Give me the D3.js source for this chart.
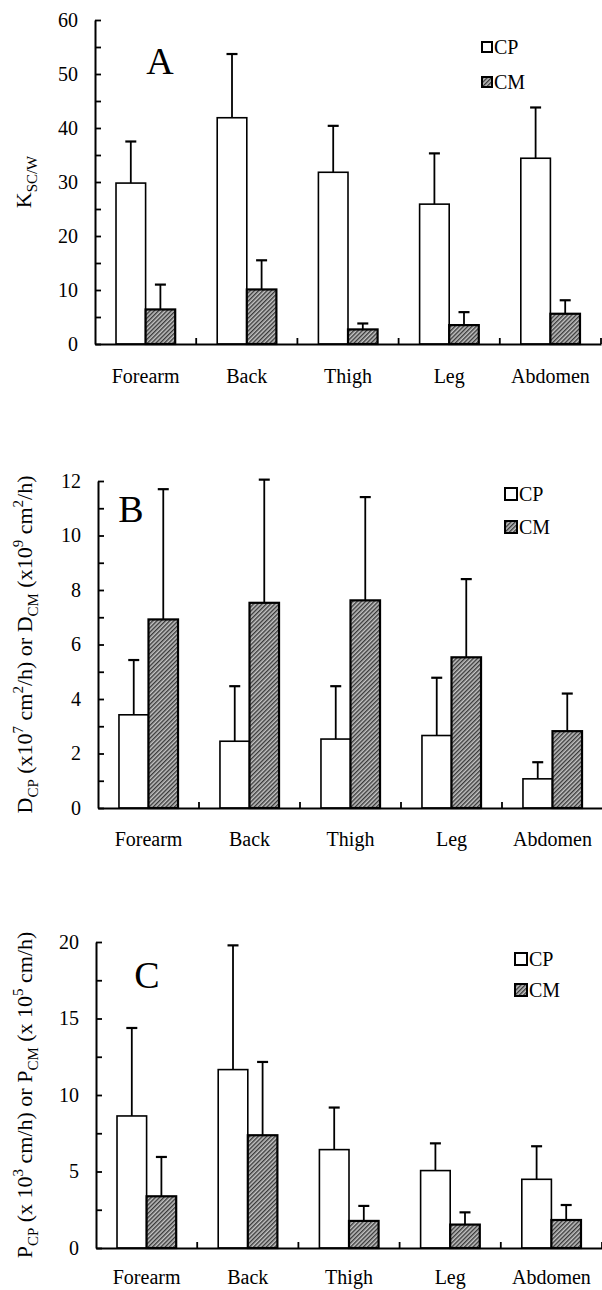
<!DOCTYPE html>
<html>
<head>
<meta charset="utf-8">
<script src="https://cdn.jsdelivr.net/npm/d3@7"></script>
<style>
  body { margin: 0; background: #fff; }
  svg { display: block; }
  text { font-family: 'Liberation Serif', 'Times New Roman', serif; fill: #000; }
</style>
</head>
<body>
<svg id="chart" width="602" height="1290"></svg>
<script>
// skin sites and the two series
const sites = ['Forearm', 'Back', 'Thigh', 'Leg', 'Abdomen'];
const series = ['CP', 'CM'];

// A: partition coefficient K sc/w (mean, sd)
const kscwCP = [29.8, 41.9, 31.8, 25.9, 34.4];
const kscwCPsd = [7.7, 11.8, 8.6, 9.4, 9.4];
const kscwCM = [6.4, 10.1, 2.7, 3.5, 5.6];
const kscwCMsd = [4.6, 5.4, 1.1, 2.4, 2.5];

// B: diffusion coefficient
const diffCP = [3.42, 2.45, 2.53, 2.66, 1.07];
const diffCPsd = [2.01, 2.02, 1.94, 2.12, 0.61];
const diffCM = [6.92, 7.53, 7.62, 5.53, 2.82];
const diffCMsd = [4.78, 4.52, 3.79, 2.87, 1.38];

// C: permeability coefficient
const permCP = [8.63, 11.66, 6.43, 5.06, 4.49];
const permCPsd = [5.75, 8.12, 2.75, 1.78, 2.16];
const permCM = [3.38, 7.37, 1.77, 1.53, 1.83];
const permCMsd = [2.57, 4.79, 0.98, 0.80, 0.98];

// y tick values per panel
const kscwTicks = d3.range(0, 61, 5);
const diffTicks = d3.range(0, 13, 1);
const permTicks = d3.range(0, 20.1, 2.5);

const svg = d3.select('#chart');

// hatch for CM bars
const defs = svg.append('defs');
const hatch = defs.append('pattern')
    .attr('id', 'hatch')
    .attr('patternUnits', 'userSpaceOnUse')
    .attr('width', 3)
    .attr('height', 3)
    .attr('patternTransform', 'rotate(45)');
hatch.append('rect')
    .attr('width', 3).attr('height', 3)
    .attr('fill', '#c4c4c4');
hatch.append('line')
    .attr('x1', 0.75).attr('y1', 0)
    .attr('x2', 0.75).attr('y2', 3)
    .attr('stroke', '#222')
    .attr('stroke-width', 1.2);

// parts: [text, 'sub' | 'sup' | undefined]; each dy undoes the previous shift
function richText (sel, parts, size) {
    let prev = 0;
    parts.forEach(([t, kind]) => {
        let shift = kind == 'sub' ? size * 0.28 : kind == 'sup' ? -size * 0.4 : 0;
        sel.append('tspan')
            .attr('dy', shift - prev)
            .style('font-size', kind ? `${size * 0.68}px` : `${size}px`)
            .text(t);
        prev = shift;
    });
}

const panels = [
    {
        letter: 'A', cp: kscwCP, cpSd: kscwCPsd, cm: kscwCM, cmSd: kscwCMsd,
        ticks: kscwTicks, label: d => d % 10 == 0 ? d : '', ymax: 60,
        left: 95, right: 601, top: 20, bottom: 344, catPad: 25,
        letterPos: [160, 74], legendPos: [482, 47], legendGap: 35, box: 10,
        title: [['K'], ['SC/W', 'sub']], titleX: 31
    },
    {
        letter: 'B', cp: diffCP, cpSd: diffCPsd, cm: diffCM, cmSd: diffCMsd,
        ticks: diffTicks, label: d => d % 2 == 0 ? d : '', ymax: 12,
        left: 98, right: 603, top: 481, bottom: 808, catPad: 24,
        letterPos: [131, 522], legendPos: [505, 494], legendGap: 33, box: 12,
        title: [['D'], ['CP', 'sub'], [' (x10'], ['7', 'sup'], [' cm'], ['2', 'sup'], ['/h) or D'],
                ['CM', 'sub'], [' (x10'], ['9', 'sup'], [' cm'], ['2', 'sup'], ['/h)']],
        titleX: 32
    },
    {
        letter: 'C', cp: permCP, cpSd: permCPsd, cm: permCM, cmSd: permCMsd,
        ticks: permTicks, label: d => d % 5 == 0 ? d : '', ymax: 20,
        left: 96, right: 602, top: 942, bottom: 1248, catPad: 22,
        letterPos: [147, 988], legendPos: [515, 959], legendGap: 31, box: 12,
        title: [['P'], ['CP', 'sub'], [' (x 10'], ['3', 'sup'], [' cm/h) or P'],
                ['CM', 'sub'], [' (x 10'], ['5', 'sup'], [' cm/h)']],
        titleX: 32
    }
];

panels.forEach(p => {
    let g = svg.append('g').attr('class', `panel-${p.letter}`);

    let x0 = d3.scaleBand()
        .domain(sites)
        .range([p.left, p.right]);
    let x1 = d3.scaleBand()
        .domain(series)
        .range([0, x0.bandwidth()])
        .paddingOuter(0.71);
    let y = d3.scaleLinear()
        .domain([0, p.ymax])
        .range([p.bottom, p.top]);

    let rows = sites.map((s, i) => ({
        site: s,
        bars: [
            {key: 'CP', value: p.cp[i], sd: p.cpSd[i]},
            {key: 'CM', value: p.cm[i], sd: p.cmSd[i]}
        ]
    }));

    let groups = g.selectAll('.site')
        .data(rows)
        .enter()
        .append('g')
            .attr('class', 'site')
            .attr('transform', d => `translate(${x0(d.site)},0)`);

    // error bars (upper only), drawn under the bars
    let err = groups.selectAll('.err')
        .data(d => d.bars)
        .enter()
        .append('g')
            .attr('class', 'err')
            .attr('stroke', '#000')
            .attr('stroke-width', 1.8);
    err.append('line')
        .attr('x1', d => x1(d.key) + x1.bandwidth() / 2)
        .attr('x2', d => x1(d.key) + x1.bandwidth() / 2)
        .attr('y1', d => y(d.value))
        .attr('y2', d => y(d.value + d.sd));
    err.append('line')
        .attr('x1', d => x1(d.key) + x1.bandwidth() / 2 - 5.5)
        .attr('x2', d => x1(d.key) + x1.bandwidth() / 2 + 5.5)
        .attr('y1', d => y(d.value + d.sd))
        .attr('y2', d => y(d.value + d.sd))
        .attr('stroke-width', 2.2);

    groups.selectAll('.bar')
        .data(d => d.bars)
        .enter()
        .append('rect')
            .attr('class', 'bar')
            .attr('x', d => x1(d.key))
            .attr('width', x1.bandwidth())
            .attr('y', d => y(d.value))
            .attr('height', d => y(0) - y(d.value))
            .attr('fill', d => d.key == 'CP' ? '#fff' : 'url(#hatch)')
            .attr('stroke', '#000')
            .attr('stroke-width', d => d.key == 'CP' ? 1.6 : 2.2);

    // y axis, ticks pointing inward
    let yAxis = g.append('g')
        .attr('transform', `translate(${p.left},0)`)
        .call(d3.axisLeft(y)
            .tickValues(p.ticks)
            .tickFormat(p.label)
            .tickSizeInner(-6)
            .tickSizeOuter(0)
            .tickPadding(17));
    yAxis.select('.domain').attr('stroke-width', 2);
    yAxis.selectAll('.tick line').attr('stroke-width', 1.8);
    yAxis.selectAll('text')
        .style('font-size', '20px')
        .style('font-family', "'Liberation Serif', serif");

    // x axis: category labels
    let xAxis = g.append('g')
        .attr('transform', `translate(0,${p.bottom})`)
        .call(d3.axisBottom(x0).tickSize(0).tickPadding(p.catPad));
    xAxis.select('.domain').attr('stroke-width', 2);
    xAxis.selectAll('text')
        .style('font-size', '20px')
        .style('font-family', "'Liberation Serif', serif");

    // small boundary ticks between sites
    g.selectAll('.sep')
        .data(sites)
        .enter()
        .append('line')
            .attr('class', 'sep')
            .attr('x1', d => x0(d) + x0.bandwidth())
            .attr('x2', d => x0(d) + x0.bandwidth())
            .attr('y1', p.bottom)
            .attr('y2', p.bottom - 6)
            .attr('stroke', '#000')
            .attr('stroke-width', 1.8);

    // panel letter
    g.append('text')
        .attr('x', p.letterPos[0])
        .attr('y', p.letterPos[1])
        .attr('text-anchor', 'middle')
        .style('font-size', '38px')
        .text(p.letter);

    // legend
    let leg = g.selectAll('.legend')
        .data(series)
        .enter()
        .append('g')
            .attr('class', 'legend')
            .attr('transform', (d, i) => `translate(${p.legendPos[0]},${p.legendPos[1] + i * p.legendGap})`);
    leg.append('rect')
        .attr('x', 0)
        .attr('y', -p.box / 2)
        .attr('width', p.box)
        .attr('height', p.box)
        .attr('fill', d => d == 'CP' ? '#fff' : 'url(#hatch)')
        .attr('stroke', '#000')
        .attr('stroke-width', 2);
    leg.append('text')
        .attr('x', p.box + 2)
        .attr('y', 7)
        .style('font-size', '20px')
        .text(d => d);

    // y axis title
    let title = g.append('text')
        .attr('text-anchor', 'middle')
        .attr('transform', `translate(${p.titleX},${(p.top + p.bottom) / 2}) rotate(-90)`);
    richText(title, p.title, 22);
});
</script>
</body>
</html>
